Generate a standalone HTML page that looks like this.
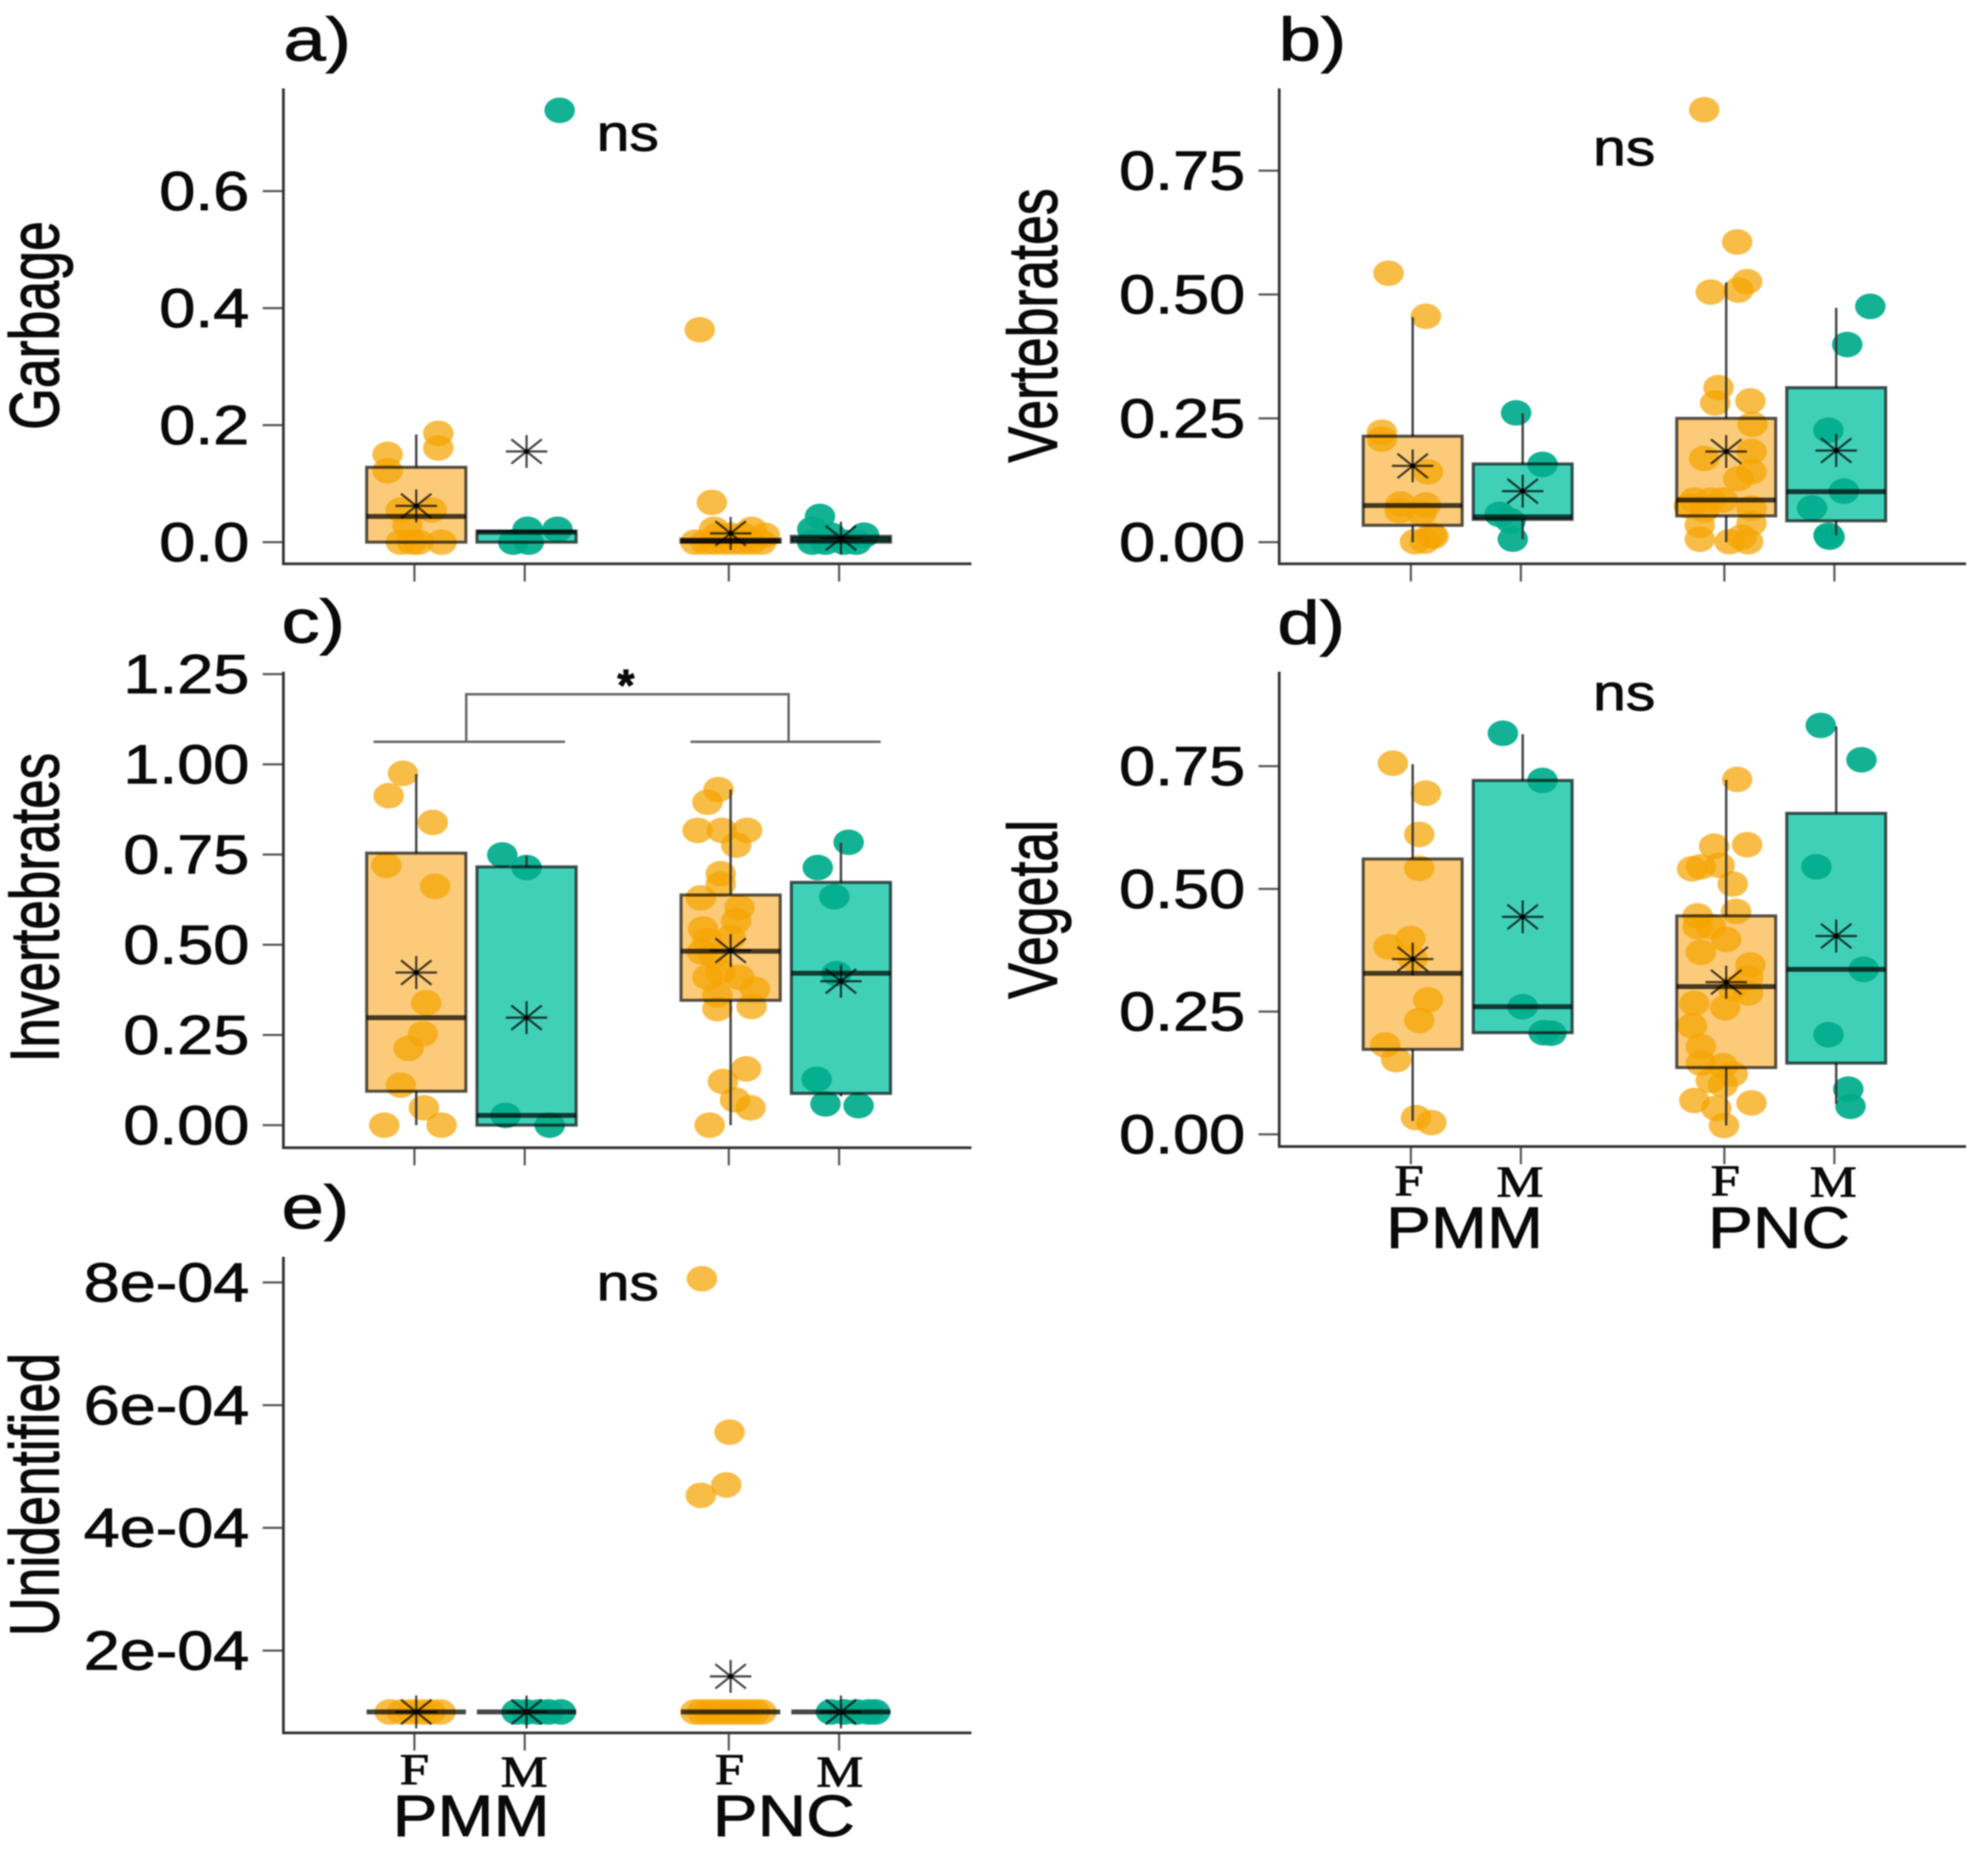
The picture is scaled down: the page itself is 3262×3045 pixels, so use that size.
<!DOCTYPE html>
<html>
<head>
<meta charset="utf-8">
<title>Diet proportions by site and sex</title>
<style>
html,body{margin:0;padding:0;background:#fff;}
svg{display:block;filter:blur(1.1px);}
text{font-family:"Liberation Sans",sans-serif;fill:#0a0a0a;stroke:#0a0a0a;stroke-width:1.4px;}
.serif{font-family:"Liberation Serif",serif;}
</style>
</head>
<body>
<svg id="chart" xmlns="http://www.w3.org/2000/svg" width="3262" height="3045" viewBox="0 0 3262 3045">
  <rect x="0" y="0" width="3262" height="3045" fill="#fff"/>

  <text transform="translate(465,99) scale(1.25,1)" font-size="100">a)</text>
  <text transform="translate(2098,99) scale(1.25,1)" font-size="100">b)</text>
  <text transform="translate(462,1054) scale(1.25,1)" font-size="100">c)</text>
  <text transform="translate(2096,1056) scale(1.25,1)" font-size="100">d)</text>
  <text transform="translate(462,2015) scale(1.25,1)" font-size="100">e)</text>

  <text text-anchor="middle" font-size="88" transform="translate(96,534) rotate(-90) scale(1,1.3)">Garbage</text>
  <text text-anchor="middle" font-size="88" transform="translate(1734,534) rotate(-90) scale(1,1.3)">Vertebrates</text>
  <text text-anchor="middle" font-size="87" transform="translate(96,1489) rotate(-90) scale(1,1.3)">Invertebrates</text>
  <text text-anchor="middle" font-size="88" transform="translate(1734,1492) rotate(-90) scale(1,1.3)">Vegetal</text>
  <text text-anchor="middle" font-size="88" transform="translate(96,2452) rotate(-90) scale(1,1.3)">Unidentified</text>

  <text text-anchor="middle" font-size="84" transform="translate(1030,247) scale(1.15,1)">ns</text>
  <text text-anchor="middle" font-size="84" transform="translate(2665,271) scale(1.15,1)">ns</text>
  <text text-anchor="middle" font-size="84" transform="translate(2665,1165) scale(1.15,1)">ns</text>
  <text text-anchor="middle" font-size="84" transform="translate(1030,2133) scale(1.15,1)">ns</text>

  <g fill="none" stroke="#666" stroke-width="4">
    <path d="M613 1217H927M1133 1217H1445M765 1217V1139H1294V1217"/>
  </g>
  <text text-anchor="middle" font-size="72" font-weight="bold" x="1027" y="1149">*</text>

  <text class="serif" text-anchor="middle" font-size="72" transform="translate(2312,1961) scale(1.2,1)">F</text>
  <text class="serif" text-anchor="middle" font-size="72" transform="translate(2494,1963) scale(1.2,1)">M</text>
  <text class="serif" text-anchor="middle" font-size="72" transform="translate(2831,1961) scale(1.2,1)">F</text>
  <text class="serif" text-anchor="middle" font-size="72" transform="translate(3008,1963) scale(1.2,1)">M</text>
  <text text-anchor="middle" font-size="96" transform="translate(2403,2047) scale(1.15,1)">PMM</text>
  <text text-anchor="middle" font-size="96" transform="translate(2919,2047) scale(1.15,1)">PNC</text>

  <text class="serif" text-anchor="middle" font-size="72" transform="translate(680,2927) scale(1.2,1)">F</text>
  <text class="serif" text-anchor="middle" font-size="72" transform="translate(860,2931) scale(1.2,1)">M</text>
  <text class="serif" text-anchor="middle" font-size="72" transform="translate(1197,2927) scale(1.2,1)">F</text>
  <text class="serif" text-anchor="middle" font-size="72" transform="translate(1378,2931) scale(1.2,1)">M</text>
  <text text-anchor="middle" font-size="96" transform="translate(773,3012) scale(1.15,1)">PMM</text>
  <text text-anchor="middle" font-size="96" transform="translate(1286,3012) scale(1.15,1)">PNC</text>
</svg>

<script>
// Categories: site / sex groups, in plotting order
const groupNames = ['pmm-f', 'pmm-m', 'pnc-f', 'pnc-m'];
const groupSex = ['F', 'M', 'F', 'M'];

// Panel a) Garbage
const garbageTicks = [0, 0.2, 0.4, 0.6];
const garbageTickLabels = ['0.0', '0.2', '0.4', '0.6'];
const garbageValues = [
  [0.186, 0.161, 0.150, 0.122, 0.055, 0.055, 0.029, 0, 0, 0, 0],
  [0.738, 0.022, 0.022, 0, 0],
  [0.363, 0.068, 0.022, 0.022, 0, 0, 0, 0, 0, 0, 0, 0, 0.012, 0.012, 0.012, 0.012],
  [0.044, 0.022, 0.012, 0, 0, 0, 0, 0.012]
];
const garbageJitter = [
  [0.2, 0.2, -0.26, -0.26, -0.14, 0.14, -0.08, -0.14, 0.02, 0.23, -0.04],
  [0.3, 0.01, 0.28, -0.12, 0.02],
  [-0.28, -0.17, -0.15, 0.19, -0.32, -0.23, -0.15, -0.06, 0.02, 0.11, 0.19, 0.28, 0, -0.12, 0.11, 0.31],
  [-0.19, -0.26, 0.21, -0.26, -0.14, 0.03, 0.14, -0.09]
];
const garbageQ1 = [0, 0, 0, 0];
const garbageMedian = [0.044, 0.017, 0.002, 0.005];
const garbageQ3 = [0.128, 0.019, 0.005, 0.010];
const garbageLow = [0, 0, 0, 0];
const garbageHigh = [0.184, 0.019, 0.005, 0.010];
const garbageMean = [0.062, 0.155, 0.015, 0.007];

// Panel b) Vertebrates
const vertebratesTicks = [0, 0.25, 0.5, 0.75];
const vertebratesTickLabels = ['0.00', '0.25', '0.50', '0.75'];
const vertebratesValues = [
  [0.543, 0.456, 0.222, 0.208, 0.142, 0.077, 0.075, 0.064, 0.059, 0.014, 0.001, 0.002, 0.012],
  [0.261, 0.157, 0.056, 0.043, 0.006],
  [0.873, 0.606, 0.526, 0.505, 0.509, 0.312, 0.281, 0.285, 0.238, 0.169, 0.183, 0.142, 0.128, 0.085, 0.085, 0.085, 0.073, 0.069, 0.065, 0.034, 0.038, 0.006, 0.001, 0.001, 0.010],
  [0.476, 0.399, 0.226, 0.103, 0.069, 0.014, 0.010]
];
const vertebratesJitter = [
  [-0.22, 0.12, -0.28, -0.28, 0.14, -0.11, 0.12, -0.12, 0.08, 0.17, 0.02, 0.11, 0.19],
  [-0.06, 0.18, -0.21, -0.11, -0.09],
  [-0.2, 0.1, 0.19, -0.14, 0.11, -0.07, -0.1, 0.22, 0.24, -0.2, 0.23, 0.23, 0.11, -0.29, -0.14, -0.03, -0.34, 0.23, -0.2, -0.24, 0.23, -0.24, 0.03, 0.2, 0.14],
  [0.31, 0.1, -0.07, 0.07, -0.22, -0.07, -0.06]
];
const vertebratesQ1 = [0.034, 0.046, 0.053, 0.043];
const vertebratesMedian = [0.074, 0.051, 0.085, 0.102];
const vertebratesQ3 = [0.214, 0.158, 0.250, 0.312];
const vertebratesLow = [0, 0.006, 0, 0.014];
const vertebratesHigh = [0.454, 0.260, 0.524, 0.473];
const vertebratesMean = [0.154, 0.103, 0.183, 0.185];

// Panel c) Invertebrates
const invertebratesTicks = [0, 0.25, 0.5, 0.75, 1, 1.25];
const invertebratesTickLabels = ['0.00', '0.25', '0.50', '0.75', '1.00', '1.25'];
const invertebratesValues = [
  [0.975, 0.913, 0.839, 0.72, 0.662, 0.339, 0.253, 0.213, 0.111, 0.048, 0, 0],
  [0.749, 0.714, 0.027, 0],
  [0.93, 0.895, 0.817, 0.817, 0.817, 0.776, 0.697, 0.668, 0.63, 0.603, 0.566, 0.544, 0.512, 0.52, 0.48, 0.469, 0.41, 0.426, 0.41, 0.377, 0.361, 0.329, 0.323, 0.156, 0.121, 0.07, 0.048, 0],
  [0.784, 0.714, 0.633, 0.42, 0.127, 0.059, 0.054]
];
const invertebratesJitter = [
  [-0.12, -0.25, 0.15, -0.27, 0.17, 0.09, 0.06, -0.07, -0.14, 0.07, -0.29, 0.23],
  [-0.22, 0, -0.19, 0.21],
  [-0.11, -0.21, -0.3, -0.08, 0.15, 0.05, -0.09, -0.09, -0.27, 0.08, 0.05, -0.25, -0.21, 0, -0.26, -0.15, -0.21, -0.09, 0.08, 0.22, -0.12, 0.19, -0.12, 0.14, -0.07, 0.04, 0.18, -0.19],
  [0.07, -0.21, -0.06, -0.04, -0.22, -0.14, 0.16]
];
const invertebratesQ1 = [0.094, 0, 0.346, 0.088];
const invertebratesMedian = [0.298, 0.027, 0.482, 0.421];
const invertebratesQ3 = [0.754, 0.716, 0.638, 0.673];
const invertebratesLow = [0, 0, 0, 0.08];
const invertebratesHigh = [0.973, 0.746, 0.93, 0.783];
const invertebratesMean = [0.423, 0.298, 0.484, 0.399];

// Panel d) Vegetal
const vegetalTicks = [0, 0.25, 0.5, 0.75];
const vegetalTickLabels = ['0.00', '0.25', '0.50', '0.75'];
const vegetalValues = [
  [0.756, 0.695, 0.611, 0.542, 0.399, 0.382, 0.358, 0.274, 0.232, 0.182, 0.152, 0.034, 0.024],
  [0.817, 0.721, 0.26, 0.207, 0.206],
  [0.723, 0.59, 0.587, 0.541, 0.545, 0.548, 0.51, 0.454, 0.445, 0.423, 0.423, 0.397, 0.371, 0.345, 0.319, 0.288, 0.297, 0.267, 0.258, 0.221, 0.179, 0.145, 0.14, 0.123, 0.101, 0.11, 0.069, 0.064, 0.053, 0.018],
  [0.833, 0.763, 0.545, 0.336, 0.203, 0.092, 0.057]
];
const vegetalJitter = [
  [-0.18, 0.12, 0.06, 0.06, -0.02, -0.22, 0, 0.14, 0.06, -0.25, -0.15, 0.03, 0.17],
  [-0.18, 0.18, 0, 0.19, 0.26],
  [0.1, 0.19, -0.11, -0.31, -0.23, -0.06, 0.06, 0.09, -0.26, -0.26, -0.14, 0, -0.23, 0.22, 0.2, 0.2, 0.06, -0.29, -0.01, -0.31, -0.23, -0.23, -0.03, 0.06, -0.03, -0.14, -0.29, 0.23, -0.09, -0.02],
  [-0.14, 0.23, -0.18, 0.25, -0.07, 0.11, 0.13]
];
const vegetalQ1 = [0.173, 0.207, 0.136, 0.145];
const vegetalMedian = [0.328, 0.26, 0.301, 0.336];
const vegetalQ3 = [0.561, 0.721, 0.445, 0.654];
const vegetalLow = [0.027, 0.207, 0.018, 0.062];
const vegetalHigh = [0.754, 0.815, 0.722, 0.831];
const vegetalMean = [0.357, 0.443, 0.31, 0.404];

// Panel e) Unidentified
const unidentifiedTicks = [2e-4, 4e-4, 6e-4, 8e-4];
const unidentifiedTickLabels = ['2e-04', '4e-04', '6e-04', '8e-04'];
const unidentifiedValues = [
  [1e-4, 1e-4, 1e-4, 1e-4, 1e-4, 1e-4],
  [1e-4, 1e-4, 1e-4, 1e-4, 1e-4],
  [8.06e-4, 5.56e-4, 4.70e-4, 4.53e-4, 1e-4, 1e-4, 1e-4, 1e-4, 1e-4, 1e-4, 1e-4, 1e-4, 1e-4, 1e-4, 1e-4],
  [1e-4, 1e-4, 1e-4, 1e-4, 1e-4]
];
const unidentifiedJitter = [
  [-0.24, -0.13, -0.04, 0.05, 0.13, 0.22],
  [-0.09, 0, 0.11, 0.2, 0.31],
  [-0.26, -0.01, -0.04, -0.27, -0.32, -0.26, -0.2, -0.14, -0.08, -0.02, 0.04, 0.1, 0.16, 0.22, 0.28],
  [-0.09, 0.03, 0.14, 0.25, 0.31]
];
const unidentifiedQ1 = [1e-4, 1e-4, 1e-4, 1e-4];
const unidentifiedMedian = [1e-4, 1e-4, 1e-4, 1e-4];
const unidentifiedQ3 = [1e-4, 1e-4, 1e-4, 1e-4];
const unidentifiedLow = [1e-4, 1e-4, 1e-4, 1e-4];
const unidentifiedHigh = [1e-4, 1e-4, 1e-4, 1e-4];
const unidentifiedMean = [1e-4, 1e-4, 1.58e-4, 1e-4];

// Panel layouts: axis frame and the pixel row of two reference values
const panels = [
  { id: 'garbage', axisX: 465, axisTop: 145, axisBottom: 925, axisRight: 1594, x0: 683, step: 181,
    refA: 0, pyA: 889.5, refB: 0.6, pyB: 313.5,
    ticks: garbageTicks, labels: garbageTickLabels, values: garbageValues, jitter: garbageJitter,
    q1: garbageQ1, median: garbageMedian, q3: garbageQ3, low: garbageLow, high: garbageHigh, mean: garbageMean },
  { id: 'vertebrates', axisX: 2099, axisTop: 145, axisBottom: 925, axisRight: 3226, x0: 2318, step: 180.5,
    refA: 0, pyA: 889.5, refB: 0.75, pyB: 280,
    ticks: vertebratesTicks, labels: vertebratesTickLabels, values: vertebratesValues, jitter: vertebratesJitter,
    q1: vertebratesQ1, median: vertebratesMedian, q3: vertebratesQ3, low: vertebratesLow, high: vertebratesHigh, mean: vertebratesMean },
  { id: 'invertebrates', axisX: 465, axisTop: 1102, axisBottom: 1883, axisRight: 1594, x0: 683, step: 181,
    refA: 0, pyA: 1846, refB: 1.25, pyB: 1106,
    ticks: invertebratesTicks, labels: invertebratesTickLabels, values: invertebratesValues, jitter: invertebratesJitter,
    q1: invertebratesQ1, median: invertebratesMedian, q3: invertebratesQ3, low: invertebratesLow, high: invertebratesHigh, mean: invertebratesMean },
  { id: 'vegetal', axisX: 2099, axisTop: 1102, axisBottom: 1881, axisRight: 3226, x0: 2318, step: 180.5,
    refA: 0, pyA: 1861, refB: 0.75, pyB: 1257,
    ticks: vegetalTicks, labels: vegetalTickLabels, values: vegetalValues, jitter: vegetalJitter,
    q1: vegetalQ1, median: vegetalMedian, q3: vegetalQ3, low: vegetalLow, high: vegetalHigh, mean: vegetalMean },
  { id: 'unidentified', axisX: 465, axisTop: 2062, axisBottom: 2843, axisRight: 1594, x0: 683, step: 181,
    refA: 2e-4, pyA: 2708, refB: 8e-4, pyB: 2104,
    ticks: unidentifiedTicks, labels: unidentifiedTickLabels, values: unidentifiedValues, jitter: unidentifiedJitter,
    q1: unidentifiedQ1, median: unidentifiedMedian, q3: unidentifiedQ3, low: unidentifiedLow, high: unidentifiedHigh, mean: unidentifiedMean }
];

const SVG_NS = 'http://www.w3.org/2000/svg';
const chart = document.getElementById('chart');
const groupSlots = [0, 1, 2.85, 3.85];
const boxFills = ['#FBCB7A', '#40D0B8', '#FBCB7A', '#40D0B8'];
const pointFills = ['#F5A400', '#00AB8C', '#F5A400', '#00AB8C'];
const pointOpacity = [0.72, 0.92, 0.72, 0.92];

function make(tag, attrs, parent) {
  const el = document.createElementNS(SVG_NS, tag);
  for (const k in attrs) el.setAttribute(k, attrs[k]);
  parent.appendChild(el);
  return el;
}

function drawPanel(p) {
  const yScale = v => p.pyA + (v - p.refA) * (p.pyB - p.pyA) / (p.refB - p.refA);
  const xScale = (g, offset) => p.x0 + p.step * (groupSlots[g] + offset);

  const panel = make('g', {}, chart);
  
  

  // y ticks + labels
  p.ticks.forEach((t, i) => {
    const py = yScale(t);
    const tick = make('line', { x1: p.axisX - 34, x2: p.axisX, y1: py, y2: py, stroke: '#555', 'stroke-width': 3.5 }, panel);
    
    
    const label = make('text', { transform: 'translate(' + (p.axisX - 56) + ',' + (py + 31) + ') scale(1.18,1)', 'text-anchor': 'end', 'font-size': 90 }, panel);
    
    
    label.textContent = p.labels[i];
  });

  // x ticks
  groupNames.forEach((name, g) => {
    const px = xScale(g, 0) - 3;
    const tick = make('line', { x1: px, x2: px, y1: p.axisBottom, y2: p.axisBottom + 29, stroke: '#555', 'stroke-width': 3.5 }, panel);
    
    
  });

  // axes
  const yAxis = make('line', { x1: p.axisX, x2: p.axisX, y1: p.axisTop, y2: p.axisBottom + 2, stroke: '#333', 'stroke-width': 4.5 }, panel);
  
  
  const xAxis = make('line', { x1: p.axisX - 2, x2: p.axisRight, y1: p.axisBottom, y2: p.axisBottom, stroke: '#333', 'stroke-width': 4.5 }, panel);
  
  

  // groups
  groupNames.forEach((name, g) => {
    const group = make('g', {}, panel);
    
    

    const cx = xScale(g, 0);
    const halfW = p.step * 0.45;
    const yQ1 = yScale(p.q1[g]);
    const yQ3 = yScale(p.q3[g]);
    const yMed = yScale(p.median[g]);

    const fill = make('rect', { x: cx - halfW, y: yQ3, width: halfW * 2, height: Math.max(yQ1 - yQ3, 0), fill: boxFills[g] }, group);
    
    

    p.values[g].forEach((v, i) => {
      const pt = make('ellipse', { cx: xScale(g, p.jitter[g][i]), cy: yScale(v), rx: 25, ry: 21, fill: pointFills[g], 'fill-opacity': pointOpacity[g] }, group);
      
      
    });

    const whiskerHigh = make('line', { x1: cx, x2: cx, y1: yScale(p.high[g]), y2: yQ3, stroke: '#333', 'stroke-opacity': 0.9, 'stroke-width': 4 }, group);
    
    
    const whiskerLow = make('line', { x1: cx, x2: cx, y1: yQ1, y2: yScale(p.low[g]), stroke: '#333', 'stroke-opacity': 0.9, 'stroke-width': 4 }, group);
    
    

    const outline = make('rect', { x: cx - halfW, y: yQ3, width: halfW * 2, height: Math.max(yQ1 - yQ3, 0), fill: 'none', stroke: '#000', 'stroke-opacity': 0.66, 'stroke-width': 5 }, group);
    
    

    const median = make('line', { x1: cx - halfW, x2: cx + halfW, y1: yMed, y2: yMed, stroke: '#000', 'stroke-opacity': 0.72, 'stroke-width': 8 }, group);
    
    

    const yMean = yScale(p.mean[g]);
    const star = make('g', { stroke: '#000', 'stroke-opacity': 0.72, 'stroke-width': 3.6 }, group);
    
    
    make('line', { x1: cx - 34, x2: cx + 34, y1: yMean, y2: yMean }, star);
    make('line', { x1: cx, x2: cx, y1: yMean - 27, y2: yMean + 27 }, star);
    make('line', { x1: cx - 25, x2: cx + 25, y1: yMean - 20, y2: yMean + 20 }, star);
    make('line', { x1: cx - 25, x2: cx + 25, y1: yMean + 20, y2: yMean - 20 }, star);
    make('circle', { cx: cx, cy: yMean, r: 4, fill: '#000', stroke: 'none' }, star);
  });
}

panels.forEach(drawPanel);
</script>
</body>
</html>
